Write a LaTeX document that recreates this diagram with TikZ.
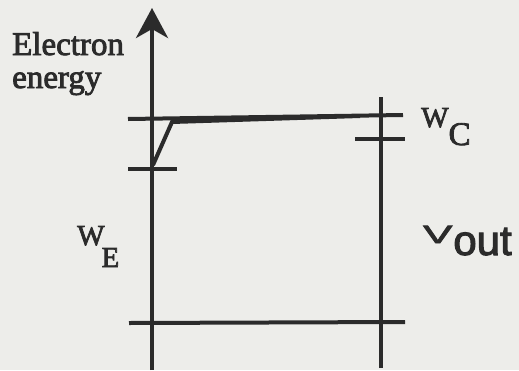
\documentclass[tikz,border=0pt]{standalone}
\usepackage{fontspec}
\setmainfont{Liberation Serif}
\newfontfamily\inkfont{Liberation Serif}[FakeBold=2.5]
\newfontfamily\inksans{Liberation Sans}[FakeBold=2.5]
\usepackage{graphicx}
\usetikzlibrary{arrows.meta, positioning}
\definecolor{InkDark}{HTML}{2B2B2B}
\definecolor{PaperGray}{HTML}{EDEDEA}

\begin{document}
\begin{tikzpicture}[
  x=1pt, y=-1pt,
  level/.style={draw=InkDark, line width=4pt},
  axis/.style={draw=InkDark, line width=4pt, -{Stealth[length=30pt, width=32pt, inset=9pt]}},
  lbl/.style={anchor=base west, inner sep=0pt, text=InkDark},
  big/.style={font=\inkfont\fontsize{33}{33}\selectfont}
]
  \fill[PaperGray] (0,0) rectangle (519,370);
  \useasboundingbox (0,0) rectangle (519,370);

  % axis and contacts
  \coordinate (axbot) at (152,370);
  \coordinate (axtop) at (152,8);
  \coordinate (rbot) at (381,368);
  \coordinate (rtop) at (381,97);
  \draw[axis] (axbot) -- (axtop);
  \draw[level] (rbot) -- (rtop);

  % levels
  \coordinate (topl) at (128,119);
  \coordinate (topr) at (403,115);
  \coordinate (slopelo) at (153,165);
  \coordinate (kink) at (172,122);
  \coordinate (merge) at (360,116);
  \coordinate (ltickl) at (128,169);
  \coordinate (ltickr) at (177,169);
  \coordinate (rtickl) at (355,139);
  \coordinate (rtickr) at (405,139);
  \coordinate (botl) at (129,323);
  \coordinate (botr) at (405,322);
  \draw[level] (topl) -- (topr);
  \draw[level, line join=miter] (slopelo) -- (kink) -- (merge);
  \draw[level] (ltickl) -- (ltickr);
  \draw[level] (rtickl) -- (rtickr);
  \draw[level] (botl) -- (botr);

  % labels
  \node[lbl, big] (elec) at (12,55) {Electron};
  \node[lbl, big] (ener) at (12,88) {energy};
  \node[lbl, font=\inkfont\fontsize{29}{29}\selectfont] (wc) at (421,127)
    {W\kern0pt\raisebox{-18pt}{\fontsize{33}{33}\selectfont C}};
  \node[lbl, font=\inkfont\fontsize{29}{29}\selectfont] (we) at (77,245)
    {W\kern-3pt\raisebox{-22pt}{\fontsize{29}{29}\selectfont E}};
  \node[lbl, font=\inksans\fontsize{25}{25}\selectfont] (vout) at (423,243)
    {\scalebox{1.75}[1]{V}\kern1pt\raisebox{-12pt}{\fontsize{42}{42}\selectfont out}};
\end{tikzpicture}
\end{document}
